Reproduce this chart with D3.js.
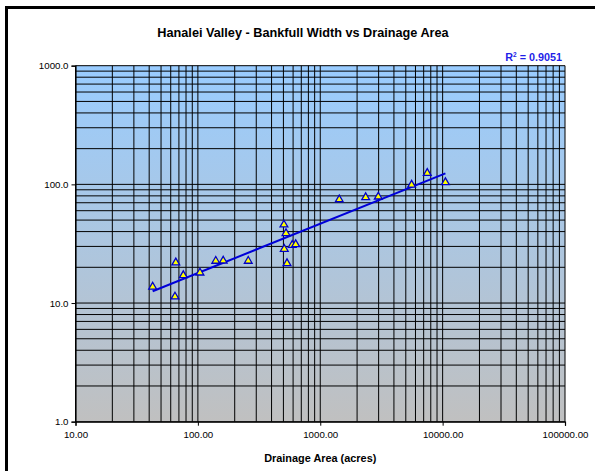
<!DOCTYPE html>
<html>
<head>
<meta charset="utf-8">
<script src="https://cdn.jsdelivr.net/npm/d3@7"></script>
<style>
  body { margin: 0; background: #fff; }
  svg { display: block; font-family: "Liberation Sans", Arial, sans-serif; }
</style>
</head>
<body>
<svg id="chart" width="595" height="471"></svg>
<script>
// Survey points: drainage area (acres) and bankfull width
const drainageArea = [42.7, 66, 65, 76, 104, 140, 161, 258, 505, 525, 508, 535, 590, 630, 1430, 2350, 2980, 5580, 7490, 10540];
const bankfullWidth = [13.7, 21.9, 11.3, 17.1, 18.0, 22.6, 22.7, 22.6, 45.7, 38.7, 28.5, 21.6, 30.8, 31.2, 74.5, 77.7, 78.6, 99.0, 124.5, 104.0];

const xTickValues = [10, 100, 1000, 10000, 100000];
const yTickValues = [1, 10, 100, 1000];
const chartTitle = "Hanalei Valley - Bankfull Width vs Drainage Area";
const xAxisTitle = "Drainage Area (acres)";
const rSquaredText = "0.9051";

const svg = d3.select("#chart");
const plot = { left: 75.5, right: 565, top: 65.7, bottom: 421.7 };

const x = d3.scaleLog().domain([10, 100000]).range([plot.left, plot.right]);
const y = d3.scaleLog().domain([1, 1000]).range([plot.bottom, plot.top]);

// Outer chart frame
svg.append("rect")
  .attr("x", 6.5).attr("y", 7.5)
  .attr("width", 700).attr("height", 700)
  .attr("fill", "none").attr("stroke", "#000").attr("stroke-width", 3);

// Plot background: blue fading to grey
const defs = svg.append("defs");
const grad = defs.append("linearGradient")
  .attr("id", "plotFill").attr("x1", 0).attr("y1", 0).attr("x2", 0).attr("y2", 1);
grad.append("stop").attr("offset", "0%").attr("stop-color", "#99CCFF");
grad.append("stop").attr("offset", "100%").attr("stop-color", "#C0C0C0");

svg.append("rect")
  .attr("x", plot.left).attr("y", plot.top)
  .attr("width", plot.right - plot.left).attr("height", plot.bottom - plot.top)
  .attr("fill", "url(#plotFill)");

// Log gridlines (major + minor)
function logGrid(domain) {
  const vals = [];
  for (let d = domain[0]; d < domain[1]; d *= 10) {
    for (let k = 1; k < 10; k++) vals.push(d * k);
  }
  vals.push(domain[1]);
  return vals;
}

const grid = svg.append("g").attr("stroke", "#000").attr("stroke-width", 1);
grid.selectAll("line.v").data(logGrid(x.domain())).join("line")
  .attr("class", "v")
  .attr("x1", d => x(d)).attr("x2", d => x(d))
  .attr("y1", plot.top).attr("y2", plot.bottom);
grid.selectAll("line.h").data(logGrid(y.domain())).join("line")
  .attr("class", "h")
  .attr("y1", d => y(d)).attr("y2", d => y(d))
  .attr("x1", plot.left).attr("x2", plot.right);

// Axes
const xAxis = d3.axisBottom(x).tickValues(xTickValues)
  .tickFormat(d3.format(".2f")).tickSize(4).tickPadding(5);
const yAxis = d3.axisLeft(y).tickValues(yTickValues)
  .tickFormat(d3.format(".1f")).tickSize(4).tickPadding(3);

const gx = svg.append("g").attr("transform", `translate(0,${plot.bottom})`).call(xAxis);
const gy = svg.append("g").attr("transform", `translate(${plot.left},0)`).call(yAxis);
[gx, gy].forEach(g => {
  g.select(".domain").attr("stroke", "#000").attr("stroke-width", 1.2);
  g.selectAll(".tick line").attr("stroke", "#000");
  g.selectAll("text").attr("fill", "#000")
    .style("font-family", "'Liberation Sans', Arial, sans-serif")
    .style("font-size", "9.7px");
});

// Power-law trendline fitted in log-log space
const lx = drainageArea.map(Math.log10);
const ly = bankfullWidth.map(Math.log10);
const mx = d3.mean(lx), my = d3.mean(ly);
const slope = d3.sum(lx, (v, i) => (v - mx) * (ly[i] - my)) / d3.sum(lx, v => (v - mx) * (v - mx));
const intercept = my - slope * mx;
const fit = a => Math.pow(10, intercept + slope * Math.log10(a));
const [xMin, xMax] = d3.extent(drainageArea);
const trend = [xMin, xMax].map(a => [a, fit(a)]);

svg.append("path")
  .datum(trend)
  .attr("d", d3.line().x(d => x(d[0])).y(d => y(d[1])))
  .attr("fill", "none").attr("stroke", "#0000D8").attr("stroke-width", 2);

// Triangle markers
const tri = d3.symbol().type(d3.symbolTriangle).size(26);
svg.append("g").selectAll("path")
  .data(drainageArea.map((a, i) => [a, bankfullWidth[i]]))
  .join("path")
  .attr("d", tri)
  .attr("transform", d => `translate(${x(d[0])},${y(d[1])})`)
  .attr("fill", "#FFFF00").attr("stroke", "#0000C8").attr("stroke-width", 1.3);

// Titles
svg.append("text")
  .attr("x", 303).attr("y", 36.5)
  .attr("text-anchor", "middle")
  .style("font-size", "12.7px").style("font-weight", "bold")
  .text(chartTitle);

svg.append("text")
  .attr("x", (plot.left + plot.right) / 2).attr("y", 462)
  .attr("text-anchor", "middle")
  .style("font-size", "10.9px").style("font-weight", "bold")
  .text(xAxisTitle);

const r2 = svg.append("text")
  .attr("x", 562).attr("y", 61)
  .attr("text-anchor", "end")
  .attr("fill", "#1F1FE8")
  .style("font-size", "10.8px").style("font-weight", "bold");
r2.append("tspan").text("R");
r2.append("tspan").attr("dy", -4).style("font-size", "6.5px").text("2");
r2.append("tspan").attr("dy", 4).text(" = " + rSquaredText);
</script>
</body>
</html>
